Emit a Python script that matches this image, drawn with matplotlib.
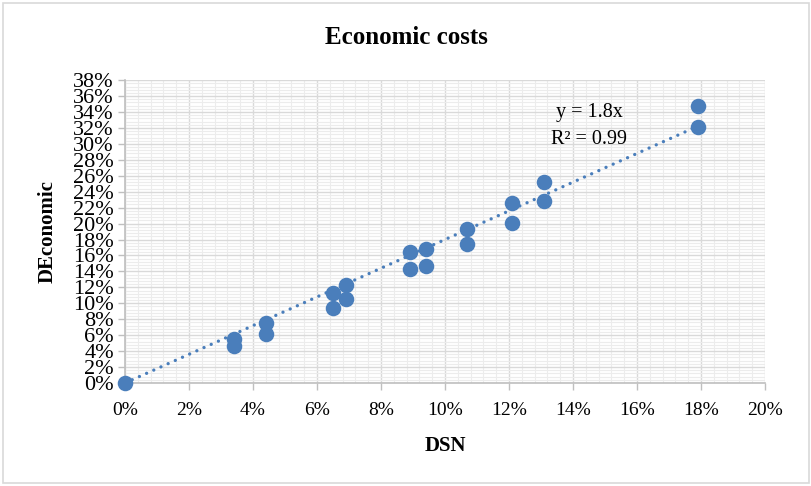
import numpy as np
import matplotlib.pyplot as plt
from matplotlib.ticker import MultipleLocator, FuncFormatter
from matplotlib.patches import Rectangle

# DSN vs DEconomic (percent)
dsn = [0.0, 3.4, 3.4, 4.4, 4.4, 6.5, 6.5, 6.9, 6.9, 8.9, 8.9, 9.4, 9.4,
       10.7, 10.7, 12.1, 12.1, 13.1, 13.1, 17.9, 17.9]
deconomic = [0.0, 5.5, 4.6, 7.5, 6.1, 11.3, 9.4, 12.3, 10.5, 16.4, 14.3,
             16.8, 14.7, 19.3, 17.4, 22.6, 20.1, 25.2, 22.8, 34.7, 32.1]
slope = 1.8
r2 = 0.99

plt.rcParams['font.family'] = ['Liberation Serif', 'DejaVu Serif']

fig = plt.figure(figsize=(8.12, 4.86), dpi=100)
ax = fig.add_axes([0.154, 0.212, 0.788, 0.623])

blue = '#4a7ebb'

# minor / major grid
ax.xaxis.set_major_locator(MultipleLocator(2))
ax.yaxis.set_major_locator(MultipleLocator(2))
ax.xaxis.set_minor_locator(MultipleLocator(0.4))
ax.yaxis.set_minor_locator(MultipleLocator(0.4))
ax.grid(which='minor', color='#ececec', lw=0.8, zorder=0)
ax.grid(which='major', color='#d9d9d9', lw=1.0, zorder=0)
ax.set_axisbelow(True)

# trendline through origin
tx = np.array([0, max(dsn)])
ax.plot(tx, slope * tx, color=blue, lw=2.4, linestyle=(0, (0.01, 2.35)),
        dash_capstyle='round', zorder=2)

ax.scatter(dsn, deconomic, s=125, color=blue, zorder=3, linewidths=0,
           clip_on=False)

ax.set_xlim(0, 20)
ax.set_ylim(0, 38)
ax.xaxis.set_major_formatter(FuncFormatter(lambda v, p: f'{v:.0f}%'))
ax.yaxis.set_major_formatter(FuncFormatter(lambda v, p: f'{v:.0f}%'))
ax.tick_params(which='major', color='#bfbfbf', length=5,
               width=1, direction='out')
ax.tick_params(axis='x', which='major', labelsize=14, pad=9)
ax.tick_params(axis='y', which='major', labelsize=16, pad=3)
ax.tick_params(which='minor', length=0)

for side in ['top', 'right']:
    ax.spines[side].set_visible(False)
for side in ['left', 'bottom']:
    ax.spines[side].set_color('#bfbfbf')
    ax.spines[side].set_linewidth(1.2)

ax.text(14.5, 33.9, f'y = {slope}x', fontsize=14.5, ha='center', va='center')
ax.text(14.5, 30.5, f'R² = {r2}', fontsize=14.5, ha='center', va='center')

ax.set_xlabel('DSN', fontsize=15, fontweight='bold', labelpad=12)
ax.set_ylabel('DEconomic', fontsize=15, fontweight='bold', labelpad=11)
fig.text(0.5, 0.922, 'Economic costs', fontsize=18, fontweight='bold',
         ha='center', va='center')

fig.patches.append(Rectangle((0.004, 0.006), 0.992, 0.988,
                             transform=fig.transFigure, fill=False,
                             edgecolor='#d9d9d9', lw=1.2))

fig.savefig('out.png', dpi=100)
